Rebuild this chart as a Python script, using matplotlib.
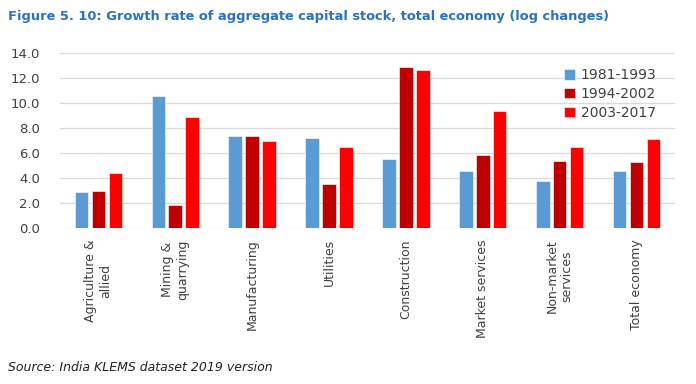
import matplotlib.pyplot as plt
import numpy as np

# data
sectors = ["Agriculture &\nallied", "Mining &\nquarrying", "Manufacturing", "Utilities",
           "Construction", "Market services", "Non-market\nservices", "Total economy"]
p1981_1993 = [2.85, 10.55, 7.4, 7.2, 5.55, 4.55, 3.75, 4.55]
p1994_2002 = [3.0, 1.85, 7.4, 3.5, 12.85, 5.85, 5.4, 5.3]
p2003_2017 = [4.4, 8.85, 6.95, 6.45, 12.65, 9.4, 6.45, 7.15]
periods = ["1981-1993", "1994-2002", "2003-2017"]
colors = ["#5B9BD5", "#C00000", "#FF0000"]
yticks = np.arange(0, 15, 2)

fig = plt.figure(figsize=(6.96, 3.84), dpi=100)
ax = fig.add_axes([0.086, 0.406, 0.884, 0.456])

x = np.arange(len(sectors))
w = 0.175
for i, vals in enumerate([p1981_1993, p1994_2002, p2003_2017]):
    ax.bar(x + (i - 1) * 0.22, vals, width=w, color=colors[i], label=periods[i],
           edgecolor="white", linewidth=0.4, zorder=3)

ax.set_xlim(-0.5, len(sectors) - 0.5)
ax.set_ylim(0, 14)
ax.set_yticks(yticks)
ax.set_yticklabels([f"{v:.1f}" for v in yticks], fontsize=9.5, color="#404040")
ax.set_xticks(x)
ax.set_xticklabels(sectors, rotation=90, fontsize=9, color="#404040",
                   ha="center", va="top", multialignment="center")
ax.tick_params(length=0, pad=8)
ax.tick_params(axis="y", pad=14)
ax.grid(axis="y", color="#D9D9D9", linewidth=0.9, zorder=0)
for s in ax.spines.values():
    s.set_visible(False)

leg = ax.legend(loc="upper right", bbox_to_anchor=(0.99, 0.985), frameon=False,
                fontsize=10, handlelength=0.8, handleheight=0.8,
                handletextpad=0.4, labelspacing=0.35)
for t in leg.get_texts():
    t.set_color("#404040")

fig.text(0.012, 0.958, "Figure 5. 10: Growth rate of aggregate capital stock, total economy (log changes)",
         fontsize=9.4, fontweight="bold", color="#2A72C0", va="center")
fig.text(0.012, 0.044, "Source: India KLEMS dataset 2019 version",
         fontsize=9, style="italic", color="#222222", va="center")

fig.savefig("out.png", dpi=100)
